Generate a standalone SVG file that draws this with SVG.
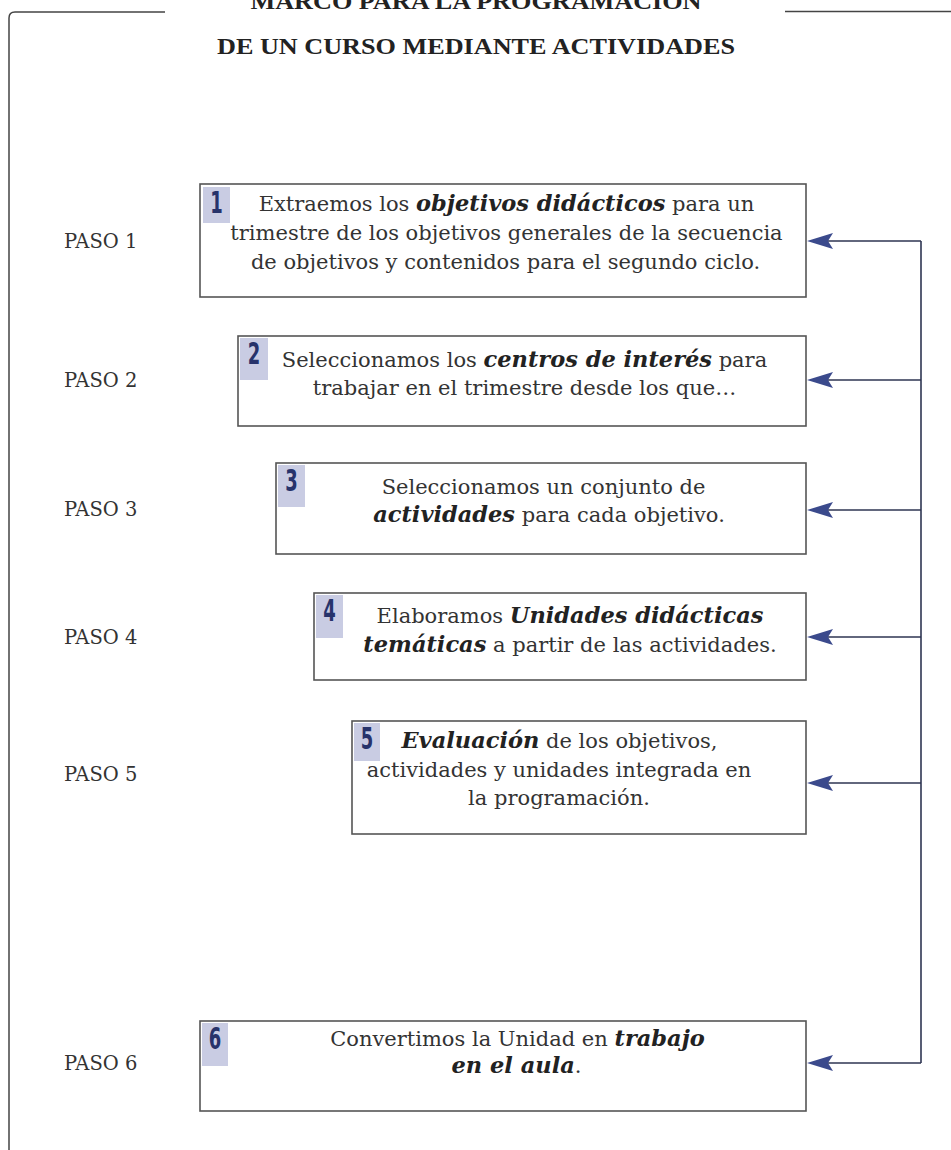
<svg xmlns="http://www.w3.org/2000/svg" width="951" height="1150" viewBox="0 0 951 1150">
<style>
.frame{fill:none;stroke:#444;stroke-width:1.5}
.box{fill:#fff;stroke:#555;stroke-width:1.6}
.badge{fill:#c9cce3}
.num{font-family:"DejaVu Sans",sans-serif;font-weight:bold;font-size:29px;fill:#27336b;text-anchor:middle}
.t{font-family:"DejaVu Serif",serif;font-size:21px;fill:#333;text-anchor:middle}
.b{font-weight:bold;font-style:italic;fill:#222;font-size:22.5px}
.paso{font-family:"DejaVu Serif",serif;font-size:19.5px;fill:#333}
.title{font-family:"Liberation Serif",serif;font-weight:bold;font-size:24px;fill:#222;text-anchor:middle}
.conn{fill:none;stroke:#2e3552;stroke-width:1.6}
.ah{fill:#3b4a8c}
</style>
<rect width="951" height="1150" fill="#fff"/>
<g id="frame">
<path class="frame" d="M9,1150 V18 Q9,12 15,12 H165"/>
<path class="frame" d="M785,11.5 H951"/>
</g>
<g id="title">
<text class="title" x="476" y="9" textLength="451" lengthAdjust="spacingAndGlyphs">MARCO PARA LA PROGRAMACIÓN</text>
<text class="title" x="476" y="54" textLength="518" lengthAdjust="spacingAndGlyphs">DE UN CURSO MEDIANTE ACTIVIDADES</text>
</g>
<g id="labels">
<text class="paso" x="64" y="248">PASO 1</text>
<text class="paso" x="64" y="387">PASO 2</text>
<text class="paso" x="64" y="516">PASO 3</text>
<text class="paso" x="64" y="644">PASO 4</text>
<text class="paso" x="64" y="781">PASO 5</text>
<text class="paso" x="64" y="1070">PASO 6</text>
</g>
<g id="connectors">
<path class="conn" d="M921,241 V1063"/>
<path class="conn" d="M921,241 H828"/>
<path class="conn" d="M921,380 H828"/>
<path class="conn" d="M921,510 H828"/>
<path class="conn" d="M921,637 H828"/>
<path class="conn" d="M921,783 H828"/>
<path class="conn" d="M921,1063 H828"/>
<polygon class="ah" points="807,241 833,233 828,241 833,249"/>
<polygon class="ah" points="807,380 833,372 828,380 833,388"/>
<polygon class="ah" points="807,510 833,502 828,510 833,518"/>
<polygon class="ah" points="807,637 833,629 828,637 833,645"/>
<polygon class="ah" points="807,783 833,775 828,783 833,791"/>
<polygon class="ah" points="807,1063 833,1055 828,1063 833,1071"/>
</g>
<g id="step1">
<rect class="box" x="200" y="184" width="606" height="113"/>
<rect class="badge" x="203" y="187" width="27" height="36"/>
<text class="num" transform="translate(216.5,213) scale(0.62,1.02)">1</text>
<text class="t" x="506.5" y="211">Extraemos los <tspan class="b">objetivos didácticos</tspan> para un</text>
<text class="t" x="506.5" y="240">trimestre de los objetivos generales de la secuencia</text>
<text class="t" x="505.5" y="269">de objetivos y contenidos para el segundo ciclo.</text>
</g>
<g id="step2">
<rect class="box" x="238" y="336" width="568" height="90"/>
<rect class="badge" x="240" y="338" width="28" height="42"/>
<text class="num" transform="translate(254,364) scale(0.62,1.02)">2</text>
<text class="t" x="524.5" y="367">Seleccionamos los <tspan class="b">centros de interés</tspan> para</text>
<text class="t" x="524.5" y="395">trabajar en el trimestre desde los que…</text>
</g>
<g id="step3">
<rect class="box" x="276" y="463" width="530" height="91"/>
<rect class="badge" x="278" y="465" width="27" height="42"/>
<text class="num" transform="translate(291.5,491) scale(0.62,1.02)">3</text>
<text class="t" x="543.5" y="494">Seleccionamos un conjunto de</text>
<text class="t" x="549" y="522"><tspan class="b">actividades</tspan> para cada objetivo.</text>
</g>
<g id="step4">
<rect class="box" x="314" y="593" width="492" height="87"/>
<rect class="badge" x="316" y="595" width="27" height="43"/>
<text class="num" transform="translate(329.5,621) scale(0.62,1.02)">4</text>
<text class="t" x="570" y="623">Elaboramos <tspan class="b">Unidades didácticas</tspan></text>
<text class="t" x="570" y="652"><tspan class="b">temáticas</tspan> a partir de las actividades.</text>
</g>
<g id="step5">
<rect class="box" x="352" y="721" width="454" height="113"/>
<rect class="badge" x="354" y="723" width="26" height="38"/>
<text class="num" transform="translate(367,749) scale(0.62,1.02)">5</text>
<text class="t" x="559.5" y="748"><tspan class="b">Evaluación</tspan> de los objetivos,</text>
<text class="t" x="559" y="777">actividades y unidades integrada en</text>
<text class="t" x="559" y="805">la programación.</text>
</g>
<g id="step6">
<rect class="box" x="200" y="1021" width="606" height="90"/>
<rect class="badge" x="202" y="1023" width="26" height="43"/>
<text class="num" transform="translate(215,1049) scale(0.62,1.02)">6</text>
<text class="t" x="517.5" y="1046">Convertimos la Unidad en <tspan class="b">trabajo</tspan></text>
<text class="t" x="516.5" y="1073"><tspan class="b">en el aula</tspan>.</text>
</g>
</svg>
